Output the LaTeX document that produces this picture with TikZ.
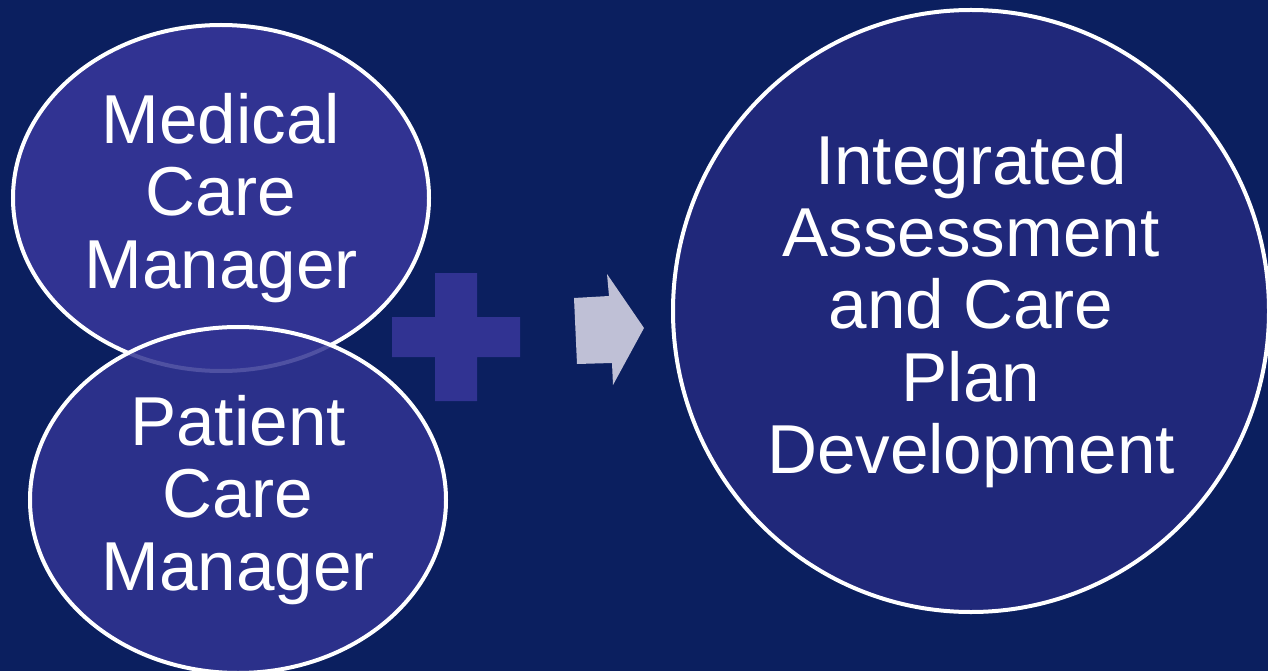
\documentclass[tikz,border=0pt]{standalone}
\usepackage{fontspec}
\setmainfont{Liberation Sans}
\usetikzlibrary{positioning,shapes.geometric}
\definecolor{slidebg}{HTML}{0B1F5F}
\definecolor{rolefill}{HTML}{313392}
\definecolor{goalfill}{HTML}{20287A}
\definecolor{arrowfill}{HTML}{BFC0D6}
\tikzset{
    x=1bp,
    y=-1bp,
    role/.style = {
        draw=white,
        shape=ellipse,
        fill=rolefill,
        inner sep=0pt,
        minimum width=416bp,
        minimum height=346bp,
        line width=4bp,
        text=white,
        align=center,
        font=\fontsize{69.5}{72.5}\selectfont
    },
    goal/.style = {
        draw=white,
        shape=ellipse,
        fill=goalfill,
        inner sep=0pt,
        minimum width=596bp,
        minimum height=602bp,
        line width=4bp,
        text=white,
        align=center,
        font=\fontsize{69.5}{72.5}\selectfont
    },
}

\begin{document}
\begin{tikzpicture}
    \path[fill=slidebg] (0,0) rectangle (1268,671);
    \useasboundingbox (0,0) rectangle (1268,671);

    \node[role] (medical) at (221,198) {Medical\\Care\\Manager};
    \node[role, fill opacity=0.85, text opacity=1] (patient) at (238,500) {Patient\\Care\\Manager};

    % plus sign
    \coordinate (plus) at (456,337);
    \path[fill=rolefill] ([shift={(-21,-64)}]plus) -- ++(42,0) -- ++(0,44)
        -- ++(43,0) -- ++(0,40) -- ++(-43,0) -- ++(0,44) -- ++(-42,0)
        -- ++(0,-44) -- ++(-43,0) -- ++(0,-40) -- ++(43,0) -- cycle;

    % arrow
    \path[fill=arrowfill] (574,298) -- (609,296) -- (607,274) -- (644,328)
        -- (613,385) -- (612,363) -- (577,364) -- cycle;

    \node[goal] (plan) at (971,311) {Integrated\\Assessment\\and Care\\Plan\\Development};
\end{tikzpicture}
\end{document}
